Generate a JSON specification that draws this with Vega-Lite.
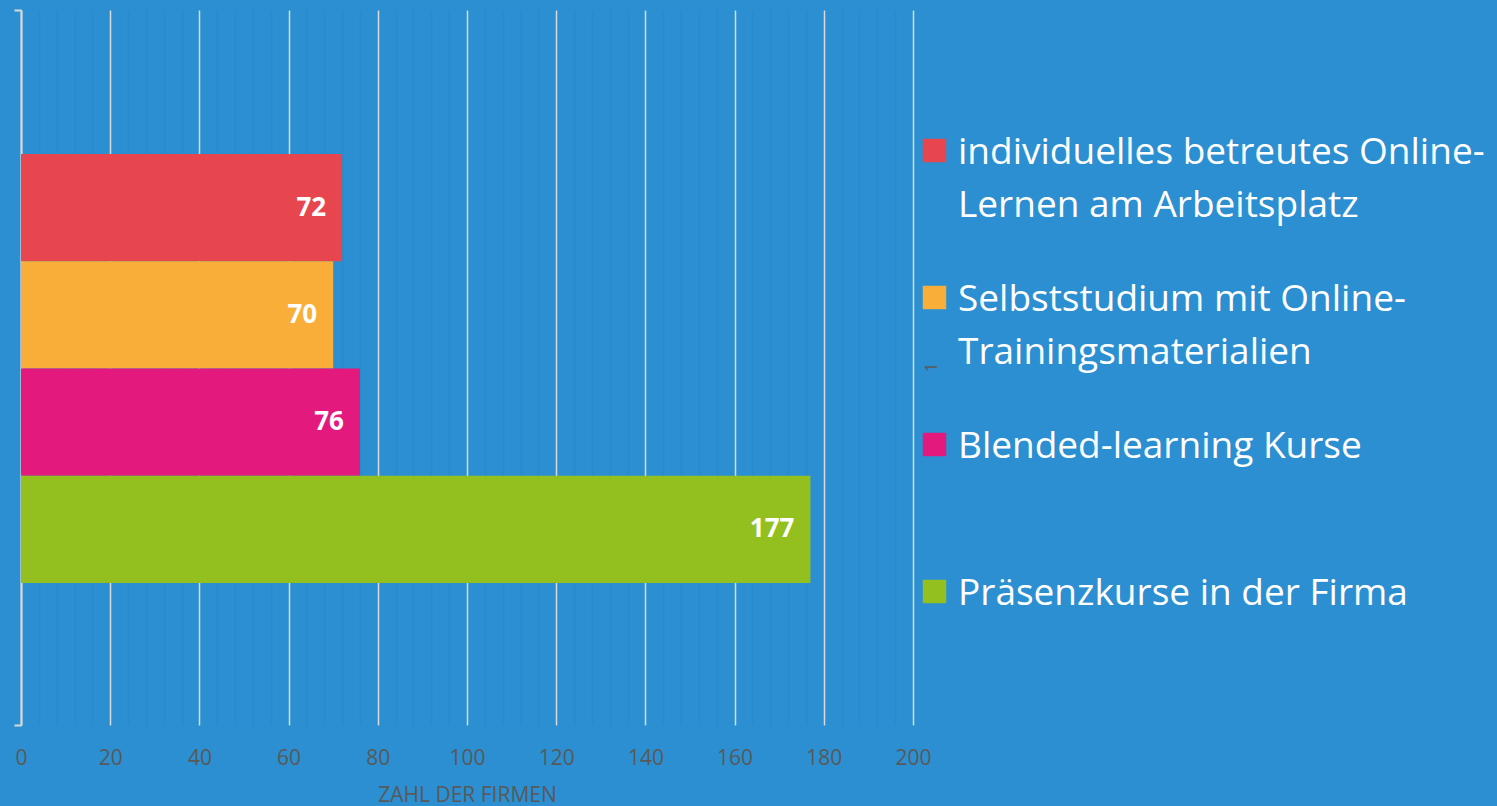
{
  "$schema": "https://vega.github.io/schema/vega-lite/v6.json",
  "autosize": "none",
  "padding": {"left": 21, "top": 10, "right": 584, "bottom": 81},
  "width": 892,
  "height": 715,
  "background": "#2b8fd2",
  "config": {
    "view": {"stroke": null},
    "font": "Open Sans"
  },
  "data": {
    "values": [
      {"cat": "1", "series": "individuelles betreutes Online-Lernen am Arbeitsplatz", "value": 72},
      {"cat": "1", "series": "Selbststudium mit Online-Trainingsmaterialien", "value": 70},
      {"cat": "1", "series": "Blended-learning Kurse", "value": 76},
      {"cat": "1", "series": "Präsenzkurse in der Firma", "value": 177}
    ]
  },
  "encoding": {
    "y": {"field": "cat", "type": "nominal", "scale": {"paddingInner": 0, "paddingOuter": 0}},
    "yOffset": {
      "field": "series", "type": "nominal",
      "sort": ["individuelles betreutes Online-Lernen am Arbeitsplatz", "Selbststudium mit Online-Trainingsmaterialien", "Blended-learning Kurse", "Präsenzkurse in der Firma"],
      "scale": {"paddingInner": 0, "paddingOuter": 0, "range": [144, 573]}
    },
    "x": {"field": "value", "type": "quantitative", "scale": {"domain": [0, 200], "nice": false}}
  },
  "layer": [
    {
      "mark": {"type": "bar"},
      "encoding": {
        "x": {
          "field": "value", "type": "quantitative",
          "axis": {
            "orient": "bottom",
            "values": [4, 8, 12, 16, 24, 28, 32, 36, 44, 48, 52, 56, 64, 68, 72, 76, 84, 88, 92, 96, 104, 108, 112, 116, 124, 128, 132, 136, 144, 148, 152, 156, 164, 168, 172, 176, 184, 188, 192, 196],
            "grid": true, "gridColor": "#1d5fa0", "gridOpacity": 0.1, "gridWidth": 1.5,
            "labels": false, "ticks": false, "domain": false, "title": null
          }
        },
        "y": {
          "field": "cat", "type": "nominal",
          "axis": {
            "orient": "left", "labels": false, "title": null,
            "domain": true, "domainColor": "#d9d9d9", "domainWidth": 2,
            "ticks": true, "tickBand": "extent", "tickColor": "#d9d9d9", "tickWidth": 2, "tickSize": 7
          }
        },
        "color": {
          "field": "series", "type": "nominal",
          "sort": ["individuelles betreutes Online-Lernen am Arbeitsplatz", "Selbststudium mit Online-Trainingsmaterialien", "Blended-learning Kurse", "Präsenzkurse in der Firma"],
          "scale": {"range": ["#e8464e", "#f8ae38", "#e3197e", "#93c01f"]},
          "legend": {
            "orient": "none", "legendX": 895, "legendY": 122,
            "title": null,
            "symbolType": "square", "symbolSize": 550, "symbolStrokeWidth": 0, "symbolBaseline": "top",
            "labelFont": "Open Sans", "labelFontSize": 37, "labelColor": "#ffffff", "labelLimit": 700,
            "labelOffset": 5, "labelBaseline": "top", "rowPadding": 55,
            "labelExpr": "split(replace(datum.label, 'Online-', 'Online-|') + (indexof(datum.label, 'Online-') < 0 ? '| ' : ''), '|')",
            "encode": {"labels": {"update": {"lineHeight": {"value": 53}, "dy": {"value": -16}}}}
          }
        }
      }
    },
    {
      "mark": {"type": "text", "align": "right", "dx": -16, "fontWeight": "bold", "fontSize": 26, "color": "#ffffff", "font": "Open Sans"},
      "encoding": {
        "text": {"field": "value", "type": "quantitative"},
        "x": {
          "field": "value", "type": "quantitative",
          "axis": {
            "orient": "bottom",
            "values": [0, 20, 40, 60, 80, 100, 120, 140, 160, 180, 200],
            "grid": true, "gridColor": "#d9d9d9", "gridWidth": 1.5,
            "ticks": false, "domain": false, "labelFlush": false, "labelBound": false,
            "labelColor": "#595959", "labelFontSize": 21, "labelPadding": 22, "labelFont": "Open Sans",
            "title": "ZAHL DER FIRMEN", "titleColor": "#595959", "titleFontSize": 21, "titleFontWeight": "normal", "titlePadding": 16, "titleFont": "Open Sans"
          }
        },
        "y": {
          "field": "cat", "type": "nominal",
          "axis": {
            "orient": "right", "title": null, "domain": false, "ticks": false, "grid": false,
            "labelAngle": 270, "labelColor": "#595959", "labelFontSize": 17, "labelPadding": 10
          }
        }
      }
    }
  ],
  "resolve": {"axis": {"x": "independent", "y": "independent"}}
}
